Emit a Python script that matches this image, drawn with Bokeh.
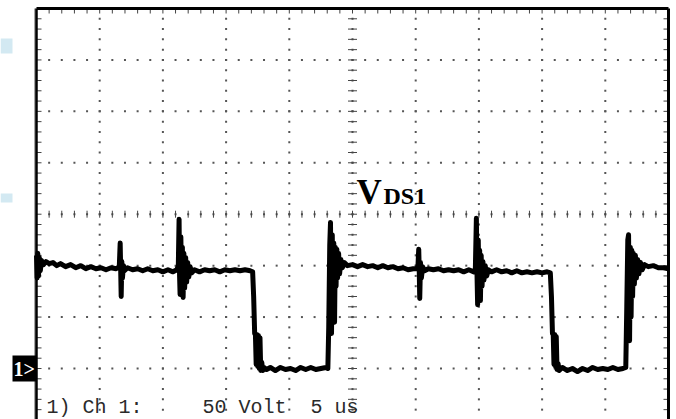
import numpy as np
from bokeh.plotting import figure
from bokeh.models import Range1d
from bokeh.core.properties import value
from bokeh.embed import file_html
from bokeh.resources import INLINE

# ---- scope settings ----
volts_per_div = 50
us_per_div = 5
n_xdiv = 10
n_ydiv = 8
v_bottom = -50      # volts at bottom graticule line (ground marker at 0 V)
minor_per_div = 5

# ---- waveform (time in us, volts) ----
t_us = (
    [0.00, 0.05, 0.10, 0.16, 0.22, 0.30, 0.40, 0.55, 0.75, 1.0, 1.3, 1.6, 1.9, 2.3, 2.7, 3.1, 3.5, 3.9, 4.3, 4.7, 5.1, 5.5, 5.9, 6.3]
    + [6.55, 6.62, 6.66, 6.70, 6.75, 6.80, 6.88, 6.95]
    + [7.2, 7.6, 8.0, 8.4, 8.8, 9.2, 9.6, 10.0, 10.4, 10.8, 11.1]
    + [11.22, 11.28, 11.32, 11.36, 11.42, 11.48, 11.54, 11.60, 11.66, 11.72, 11.80, 11.88, 11.96, 12.05, 12.15, 12.28]
    + [12.5, 12.9, 13.3, 13.7, 14.1, 14.5, 14.9, 15.3, 15.7, 16.1, 16.5, 16.9, 17.10]
    + [17.18, 17.26, 17.32, 17.38, 17.44, 17.50, 17.56, 17.62, 17.68, 17.74, 17.82, 17.90]
    + [18.0, 18.2, 18.5, 18.9, 19.3, 19.7, 20.1, 20.5, 20.9, 21.3, 21.7, 22.1, 22.5, 22.9, 23.05]
    + [23.12, 23.20, 23.26, 23.30, 23.34, 23.40, 23.46, 23.52, 23.58, 23.64, 23.70, 23.76, 23.82, 23.90, 23.98, 24.08, 24.2, 24.35, 24.6]
    + [25.0, 25.4, 25.8, 26.2, 26.6, 27.0, 27.4, 27.8, 28.2, 28.6, 29.0, 29.4, 29.8, 30.1]
    + [30.18, 30.24, 30.28, 30.32, 30.38, 30.45, 30.55, 30.7]
    + [31.0, 31.4, 31.8, 32.2, 32.6, 33.0, 33.4, 33.8, 34.2, 34.6, 34.72]
    + [34.80, 34.85, 34.90, 34.95, 35.00, 35.06, 35.12, 35.18, 35.25, 35.32, 35.40, 35.50, 35.62, 35.75]
    + [36.0, 36.4, 36.8, 37.2, 37.6, 38.0, 38.4, 38.8, 39.2, 39.6, 40.0, 40.4, 40.65]
    + [40.74, 40.82, 40.88, 40.94, 41.00, 41.06, 41.12, 41.18, 41.26, 41.35]
    + [41.6, 42.0, 42.4, 42.8, 43.2, 43.6, 44.0, 44.4, 44.8, 45.2, 45.6, 46.0, 46.4, 46.62]
    + [46.70, 46.78, 46.84, 46.88, 46.92, 46.98, 47.04, 47.10, 47.16, 47.22, 47.30, 47.38, 47.46, 47.56, 47.66, 47.78, 47.92]
    + [48.1, 48.4, 48.8, 49.2, 49.6, 50.0]
)
v_volts = (
    [110, 88, 112, 90, 108, 95, 105, 101, 104, 102, 103, 100, 102, 99, 101, 98, 100, 97, 99, 97, 98, 96, 98, 97]
    + [99, 122, 96, 70, 104, 88, 100, 95]
    + [98, 96, 97, 95, 97, 95, 96, 94, 96, 94, 96]
    + [100, 145, 90, 72, 128, 80, 118, 69, 112, 78, 108, 84, 103, 89, 99, 93]
    + [96, 94, 96, 95, 96, 94, 96, 95, 96, 95, 96, 95, 94]
    + [70, 34, 33, 4, 33, 2, 32, 0, 30, -2, 6, -2]
    + [1, -1, 1, -2, 1, -1, 0, -2, 1, -1, 1, -1, 0, 1, 0]
    + [40, 120, 142, 70, 34, 130, 60, 122, 45, 118, 80, 116, 88, 112, 92, 106, 98, 103, 100]
    + [101, 99, 101, 99, 100, 98, 100, 98, 99, 97, 98, 96, 97, 97]
    + [100, 116, 95, 68, 103, 88, 99, 95]
    + [97, 96, 97, 95, 96, 95, 96, 94, 96, 94, 97]
    + [146, 92, 62, 125, 80, 115, 66, 110, 80, 104, 86, 100, 90, 96]
    + [94, 96, 94, 95, 93, 95, 93, 94, 93, 94, 93, 94, 93]
    + [70, 34, 33, 4, 33, 2, 31, -1, 5, -2]
    + [1, -2, 0, -3, 0, -2, 1, -1, 0, -1, 1, -1, 0, 1]
    + [60, 125, 130, 80, 27, 118, 50, 115, 70, 112, 82, 110, 88, 106, 92, 103, 96]
    + [101, 99, 100, 98, 98, 97]
)

label_main = "V"
label_sub = "DS1"
footer_parts = ["1) Ch 1:", "", "", "", "", "50 Volt", "", "5 us"]
marker_text = "1>"

# ---- geometry of the screen (pixels -> data) ----
W, H = 676, 419
t_left_px, t_right_px = 36.0, 668.0
v_top_px, ground_px = 8.0, 368.0
px_per_us = (t_right_px - t_left_px) / (n_xdiv * us_per_div)
px_per_v = (ground_px - v_top_px) / ((n_ydiv - 1) * volts_per_div)
x0 = -t_left_px / px_per_us
x1 = x0 + W / px_per_us
y1 = ground_px / px_per_v
y0 = y1 - H / px_per_v

def tx(px):
    return x0 + px / px_per_us

def vy(py):
    return y1 - py / px_per_v

p = figure(width=W, height=H, x_range=Range1d(x0, x1), y_range=Range1d(y0, y1),
           x_axis_type=None, y_axis_type=None, toolbar_location=None,
           output_backend="svg", min_border=0, outline_line_color=None,
           background_fill_color="white", border_fill_color="white")
p.grid.visible = False

t_max = n_xdiv * us_per_div
v_top = v_bottom + n_ydiv * volts_per_div
v_center = v_bottom + n_ydiv / 2 * volts_per_div
t_center = t_max / 2
t_minor = us_per_div / minor_per_div
v_minor = volts_per_div / minor_per_div

# light blue page artifacts at the left edge
p.quad(left=[tx(0), tx(0)], right=[tx(12), tx(12)], top=[vy(38), vy(193)], bottom=[vy(53), vy(202)],
       fill_color="#d3e9f2", line_color=None)

# dotted graticule
dx, dy = [], []
for k in range(1, n_xdiv):
    t = k * us_per_div
    for m in range(1, n_ydiv * minor_per_div):
        dx.append(t); dy.append(v_bottom + m * v_minor)
for j in range(1, n_ydiv):
    v = v_bottom + j * volts_per_div
    for m in range(1, n_xdiv * minor_per_div):
        dx.append(m * t_minor); dy.append(v)
p.scatter(dx, dy, marker="square", size=2, color="#555555", line_color=None)

# center axis ticks
tick_h = 3.5 / px_per_v
tick_w = 4.5 / px_per_us
ctx = [m * t_minor for m in range(1, n_xdiv * minor_per_div)]
p.segment(x0=ctx, y0=[v_center - tick_h] * len(ctx), x1=ctx, y1=[v_center + tick_h] * len(ctx),
          line_color="#444444", line_width=1)
cvy = [v_bottom + m * v_minor for m in range(1, n_ydiv * minor_per_div)]
p.segment(x0=[t_center - tick_w] * len(cvy), y0=cvy, x1=[t_center + tick_w] * len(cvy), y1=cvy,
          line_color="#444444", line_width=1)

# edge ticks
edge_w = 5 / px_per_us
edge_h = 5 / px_per_v
p.segment(x0=[0] * len(cvy), y0=cvy, x1=[edge_w] * len(cvy), y1=cvy, line_color="#444444", line_width=1)
p.segment(x0=[t_max] * len(cvy), y0=cvy, x1=[t_max - edge_w] * len(cvy), y1=cvy, line_color="#444444", line_width=1)
p.segment(x0=ctx, y0=[v_top] * len(ctx), x1=ctx, y1=[v_top - edge_h] * len(ctx), line_color="#444444", line_width=1)

# screen border
p.line([tx(34.5), tx(34.5)], [v_bottom - 5, v_top], line_color="#888888", line_width=1.5)
p.line([0, 0], [v_bottom - 5, v_top], line_color="black", line_width=2.5)
p.line([t_max, t_max], [v_bottom - 5, v_top], line_color="black", line_width=3)
p.line([0, t_max], [v_top, v_top], line_color="black", line_width=3)

# waveform
p.line(t_us, v_volts, line_color="black", line_width=5, line_join="round")

# V_DS1 label
p.text(x=[tx(356)], y=[vy(192)], text=[label_main], text_font=value("Liberation Serif"),
       text_font_style="bold", text_font_size="35px", text_color="black", text_baseline="alphabetic")
p.text(x=[tx(383)], y=[vy(195)], text=[label_sub], text_font=value("Liberation Serif"),
       text_font_style="bold", text_font_size="24px", text_color="black", text_baseline="alphabetic")

# ground marker
p.quad(left=[tx(12)], right=[tx(36)], top=[vy(355)], bottom=[vy(381)], fill_color="black", line_color=None)
p.text(x=[tx(13)], y=[vy(368)], text=[marker_text], text_font=value("Liberation Serif"),
       text_font_style="bold", text_font_size="20px", text_color="white", text_baseline="middle")

# footer (non-breaking spaces keep the fixed-pitch layout)
footer_text = "\u00a0".join(footer_parts)
p.text(x=[tx(46)], y=[vy(418)], text=[footer_text], text_font=value("Liberation Mono"),
       text_font_size="20px", text_color="#2a2a2a", text_baseline="bottom")

open("out.html", "w").write(file_html(p, INLINE))
